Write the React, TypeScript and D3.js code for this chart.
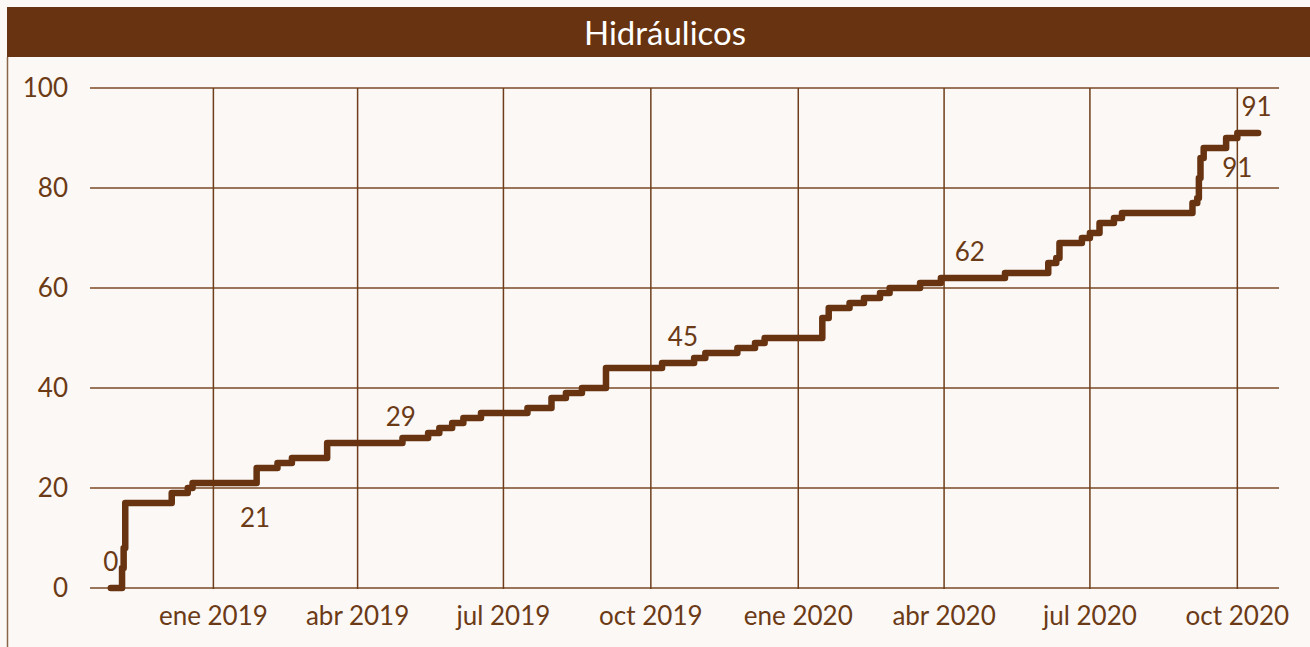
import React from "react";
import * as d3 from "d3";

// cumulative count, step series (date of each change -> new total)
const stepDates = [
  "2018-10-29", "2018-11-05", "2018-11-06", "2018-11-07", "2018-12-06", "2018-12-16", "2018-12-19",
  "2019-01-28", "2019-02-10", "2019-02-19", "2019-03-13", "2019-04-29", "2019-05-15", "2019-05-22",
  "2019-05-30", "2019-06-06", "2019-06-17", "2019-07-16", "2019-07-31", "2019-08-09", "2019-08-19",
  "2019-09-03", "2019-10-08", "2019-10-28", "2019-11-04", "2019-11-24", "2019-12-05", "2019-12-11",
  "2020-01-16", "2020-01-20", "2020-02-02", "2020-02-11", "2020-02-21", "2020-02-27", "2020-03-17",
  "2020-03-30", "2020-05-09", "2020-06-05", "2020-06-10", "2020-06-12", "2020-06-26", "2020-07-01",
  "2020-07-07", "2020-07-16", "2020-07-21", "2020-09-03", "2020-09-06", "2020-09-07", "2020-09-08",
  "2020-09-10", "2020-09-24", "2020-10-01", "2020-10-14",
];
const stepValues = [
  0, 4, 8, 17, 19, 20, 21,
  24, 25, 26, 29, 30, 31, 32,
  33, 34, 35, 36, 38, 39, 40,
  44, 45, 46, 47, 48, 49, 50,
  54, 56, 57, 58, 59, 60, 61,
  62, 63, 65, 66, 69, 70, 71,
  73, 74, 75, 77, 78, 82, 86,
  88, 90, 91, 91,
];

const labelDates = ["2018-10-29", "2019-01-27", "2019-04-28", "2019-10-21", "2020-04-17", "2020-10-01", "2020-10-13"];
const labelValues = [0, 21, 29, 45, 62, 91, 91];
const labelBelow = [false, true, false, false, false, true, false];

const tickDates = ["2019-01-01", "2019-04-01", "2019-07-01", "2019-10-01", "2020-01-01", "2020-04-01", "2020-07-01", "2020-10-01"];
const tickLabels = ["ene 2019", "abr 2019", "jul 2019", "oct 2019", "ene 2020", "abr 2020", "jul 2020", "oct 2020"];
const yTicks = [0, 20, 40, 60, 80, 100];

const title = "Hidráulicos";

const W = 1310, H = 647;
const brown = "#673310";
const textBrown = "#6b3a16";
const font = "Lato, 'Open Sans', sans-serif";

const parse = d3.utcParse("%Y-%m-%d");

export default function App() {
  const x = d3.scaleUtc()
    .domain([parse("2018-10-16")!, parse("2020-10-27")!])
    .range([90, 1279]);
  const y = d3.scaleLinear().domain([0, 100]).range([588, 88]);

  const pts = stepDates.map((d, i) => [x(parse(d)!), y(stepValues[i])] as [number, number]);
  const path = d3.line().curve(d3.curveStepAfter)(pts) || "";

  return (
    <svg width={W} height={H} style={{ position: "fixed", left: 0, top: 0 }} fontFamily={font}>
      <rect x={0} y={0} width={W} height={H} fill="#fcf8f5" />
      <rect x={7} y={7} width={W - 7} height={50} fill={brown} />
      <line x1={7.5} x2={7.5} y1={57} y2={H} stroke="#8a6448" strokeWidth={1.5} />
      <text x={665} y={45} textAnchor="middle" fill="#ffffff" fontSize={33}>{title}</text>

      {yTicks.map((t) => (
        <g key={t}>
          <line x1={90} x2={1279} y1={y(t)} y2={y(t)} stroke="#7a4a26" strokeWidth={1.5} />
          <text x={68} y={y(t) + 9} textAnchor="end" fill={textBrown} fontSize={26}>{t}</text>
        </g>
      ))}
      {tickDates.map((d, i) => {
        const xx = x(parse(d)!);
        return (
          <g key={d}>
            <line x1={xx} x2={xx} y1={88} y2={589} stroke="#6e3d1b" strokeWidth={1.5} />
            <text x={xx} y={625} textAnchor="middle" fill={textBrown} fontSize={26}>{tickLabels[i]}</text>
          </g>
        );
      })}

      <path d={path} fill="none" stroke={brown} strokeWidth={6.5} strokeLinejoin="round" strokeLinecap="round" />

      {labelDates.map((d, i) => (
        <text key={i} x={x(parse(d)!)} y={y(labelValues[i]) + (labelBelow[i] ? 44 : -17)}
          textAnchor="middle" fill={textBrown} fontSize={26}>{labelValues[i]}</text>
      ))}
    </svg>
  );
}
